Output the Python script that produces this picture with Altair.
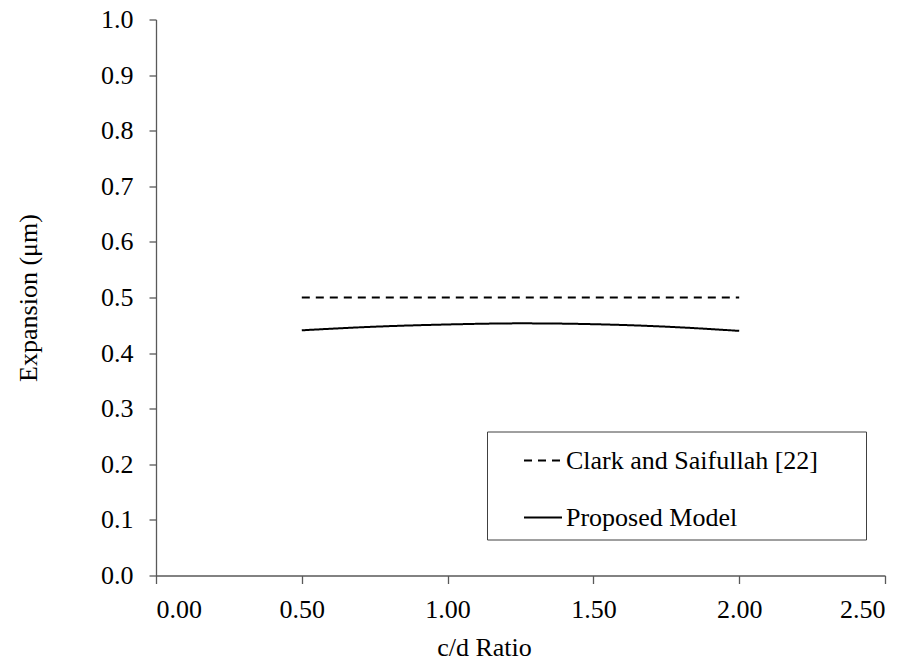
import altair as alt
import pandas as pd

ratio_proposed = [0.5, 0.75, 1.0, 1.25, 1.5, 1.75, 2.0]
expansion_proposed = [0.441, 0.4475, 0.4515, 0.4535, 0.452, 0.4475, 0.440]
ratio_clark = [0.5, 2.0]
expansion_clark = [0.5, 0.5]
series_names = ["Clark and Saifullah [22]", "Proposed Model"]
x_ticks = [0.0, 0.5, 1.0, 1.5, 2.0, 2.5]
y_ticks = [0.0, 0.1, 0.2, 0.3, 0.4, 0.5, 0.6, 0.7, 0.8, 0.9, 1.0]

rows = []
for r, e in zip(ratio_clark, expansion_clark):
    rows.append({"ratio": r, "expansion": e, "series": series_names[0], "order": r})
for r, e in zip(ratio_proposed, expansion_proposed):
    rows.append({"ratio": r, "expansion": e, "series": series_names[1], "order": r})
df = pd.DataFrame(rows)

FONT = "Liberation Serif"

chart = alt.Chart(df).mark_line(color="black", strokeWidth=2, interpolate="monotone").encode(
    x=alt.X("ratio:Q", scale=alt.Scale(domain=[0, 2.5], nice=False),
            axis=alt.Axis(values=x_ticks, format=".2f", title="c/d Ratio",
                          tickSize=8, labelPadding=13,
                          titleX=328, titleY=80, titleBaseline="alphabetic", titleAlign="center")),
    y=alt.Y("expansion:Q", scale=alt.Scale(domain=[0, 1], nice=False),
            axis=alt.Axis(values=y_ticks, format=".1f", title="Expansion (μm)",
                          tickSize=7, labelPadding=16,
                          titleX=-128, titleY=278, titleAngle=-90,
                          titleBaseline="middle", titleAlign="center")),
    strokeDash=alt.StrokeDash("series:N",
        scale=alt.Scale(domain=series_names, range=[[8, 6], [1, 0]]),
        legend=alt.Legend(title=None, orient="none", legendX=331, legendY=412,
                          symbolType="stroke", symbolSize=1444, symbolStrokeWidth=2,
                          symbolStrokeColor="black", symbolOffset=27, padding=9,
                          rowPadding=24, labelOffset=3, labelLimit=500,
                          labelExpr="datum.label + '\u00a0\u00a0\u00a0\u00a0\u00a0\u00a0\u200b'",
                          labelFont=FONT, labelFontSize=26, labelColor="black",
                          strokeColor="#404040", fillColor="white")),
    detail="series:N",
    order="order:Q",
).properties(
    width=729, height=556,
    background="white",
    autosize=alt.AutoSizeParams(type="none"),
    padding={"left": 148, "top": 11.5, "right": 23, "bottom": 86},
).configure_axis(
    grid=False,
    domainColor="#595959", tickColor="#595959", domainWidth=1.3, tickWidth=1.3,
    labelFont=FONT, labelFontSize=26, labelColor="black",
    titleFont=FONT, titleFontSize=26, titleColor="black", titleFontWeight="normal",
).configure_view(stroke=None)

chart.save("out.html", embed_options={"renderer": "svg", "actions": False})
